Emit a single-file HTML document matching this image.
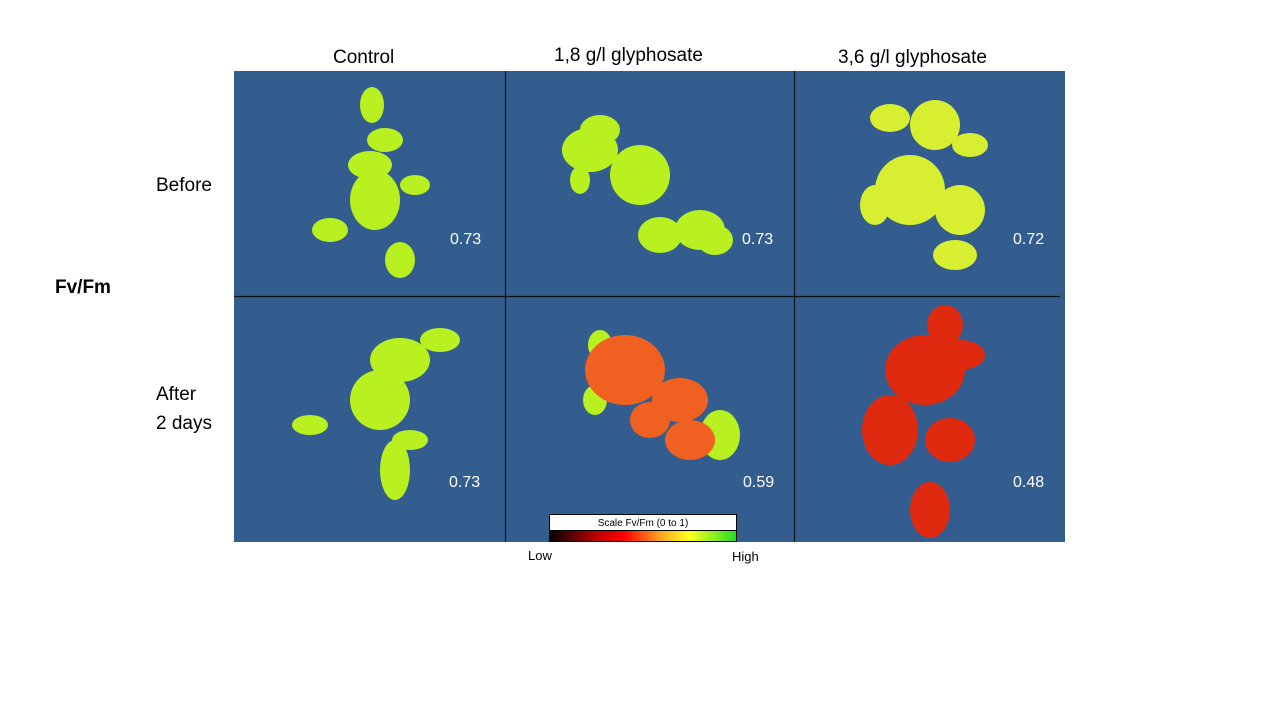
<!DOCTYPE html>
<html><head><style>
body{margin:0;width:1280px;height:720px;background:#fff;position:relative;overflow:hidden;font-family:"Liberation Sans",sans-serif}
.t{position:absolute;font-size:19px;color:#000;white-space:nowrap}
</style></head><body>
<svg width="1280" height="720" style="position:absolute;left:0;top:0">
<rect x="234" y="71" width="831" height="471" fill="#335d8f"/>
<line x1="505.5" y1="71" x2="505.5" y2="542" stroke="#111" stroke-width="1.2"/>
<line x1="794.5" y1="71" x2="794.5" y2="542" stroke="#111" stroke-width="1.2"/>
<line x1="234" y1="296.5" x2="1060" y2="296.5" stroke="#111" stroke-width="1.2"/>
<defs>
<linearGradient id="g" x1="0" x2="1"><stop offset="0" stop-color="#000"/><stop offset=".25" stop-color="#b00"/><stop offset=".4" stop-color="#f00"/><stop offset=".6" stop-color="#fa2"/><stop offset=".75" stop-color="#ff2"/><stop offset="1" stop-color="#2d2"/></linearGradient>
</defs>
<!-- plants -->
<g fill="#b8f020">
<ellipse cx="372" cy="105" rx="12" ry="18"/><ellipse cx="385" cy="140" rx="18" ry="12"/><ellipse cx="370" cy="165" rx="22" ry="14"/><ellipse cx="330" cy="230" rx="18" ry="12"/><ellipse cx="400" cy="260" rx="15" ry="18"/><ellipse cx="375" cy="200" rx="25" ry="30"/><ellipse cx="415" cy="185" rx="15" ry="10"/>
<ellipse cx="590" cy="150" rx="28" ry="22"/><ellipse cx="640" cy="175" rx="30" ry="30"/><ellipse cx="600" cy="130" rx="20" ry="15"/><ellipse cx="700" cy="230" rx="25" ry="20"/><ellipse cx="660" cy="235" rx="22" ry="18"/><ellipse cx="715" cy="240" rx="18" ry="15"/><ellipse cx="580" cy="180" rx="10" ry="14"/>
<ellipse cx="400" cy="360" rx="30" ry="22"/><ellipse cx="440" cy="340" rx="20" ry="12"/><ellipse cx="380" cy="400" rx="30" ry="30"/><ellipse cx="310" cy="425" rx="18" ry="10"/><ellipse cx="395" cy="470" rx="15" ry="30"/><ellipse cx="410" cy="440" rx="18" ry="10"/>
<ellipse cx="600" cy="345" rx="12" ry="15"/><ellipse cx="595" cy="400" rx="12" ry="15"/><ellipse cx="720" cy="435" rx="20" ry="25"/>
</g>
<g fill="#d8ee30">
<ellipse cx="890" cy="118" rx="20" ry="14"/><ellipse cx="935" cy="125" rx="25" ry="25"/><ellipse cx="970" cy="145" rx="18" ry="12"/><ellipse cx="910" cy="190" rx="35" ry="35"/><ellipse cx="875" cy="205" rx="15" ry="20"/><ellipse cx="960" cy="210" rx="25" ry="25"/><ellipse cx="955" cy="255" rx="22" ry="15"/>
</g>
<g fill="#f06020">
<ellipse cx="625" cy="370" rx="40" ry="35"/><ellipse cx="680" cy="400" rx="28" ry="22"/><ellipse cx="690" cy="440" rx="25" ry="20"/><ellipse cx="650" cy="420" rx="20" ry="18"/>
</g>
<g fill="#e02a10">
<ellipse cx="945" cy="325" rx="18" ry="20"/><ellipse cx="925" cy="370" rx="40" ry="35"/><ellipse cx="890" cy="430" rx="28" ry="35"/><ellipse cx="950" cy="440" rx="25" ry="22"/><ellipse cx="960" cy="355" rx="25" ry="15"/><ellipse cx="930" cy="510" rx="20" ry="28"/>
</g>
<rect x="549.5" y="514.5" width="187" height="16" fill="#fff" stroke="#000"/>
<rect x="549.5" y="530.5" width="187" height="11" fill="url(#g)" stroke="#000"/>
<text x="643" y="526" font-size="10" text-anchor="middle" font-family="Liberation Sans">Scale Fv/Fm (0 to 1)</text>
</svg>
<div class="t" style="left:333px;top:47px">Control</div>
<div class="t" style="left:554px;top:45px">1,8 g/l glyphosate</div>
<div class="t" style="left:838px;top:47px">3,6 g/l glyphosate</div>
<div class="t" style="left:156px;top:175px">Before</div>
<div class="t" style="left:156px;top:380px;line-height:29px">After<br>2 days</div>
<div class="t" style="left:55px;top:277px;font-weight:bold">Fv/Fm</div>
<div class="t" style="left:450px;top:231px;font-size:16px;color:#fff">0.73</div>
<div class="t" style="left:742px;top:231px;font-size:16px;color:#fff">0.73</div>
<div class="t" style="left:1013px;top:231px;font-size:16px;color:#fff">0.72</div>
<div class="t" style="left:449px;top:474px;font-size:16px;color:#fff">0.73</div>
<div class="t" style="left:743px;top:474px;font-size:16px;color:#fff">0.59</div>
<div class="t" style="left:1013px;top:474px;font-size:16px;color:#fff">0.48</div>
<div class="t" style="left:528px;top:548px;font-size:13px">Low</div>
<div class="t" style="left:732px;top:549px;font-size:13px">High</div>
</body></html>
